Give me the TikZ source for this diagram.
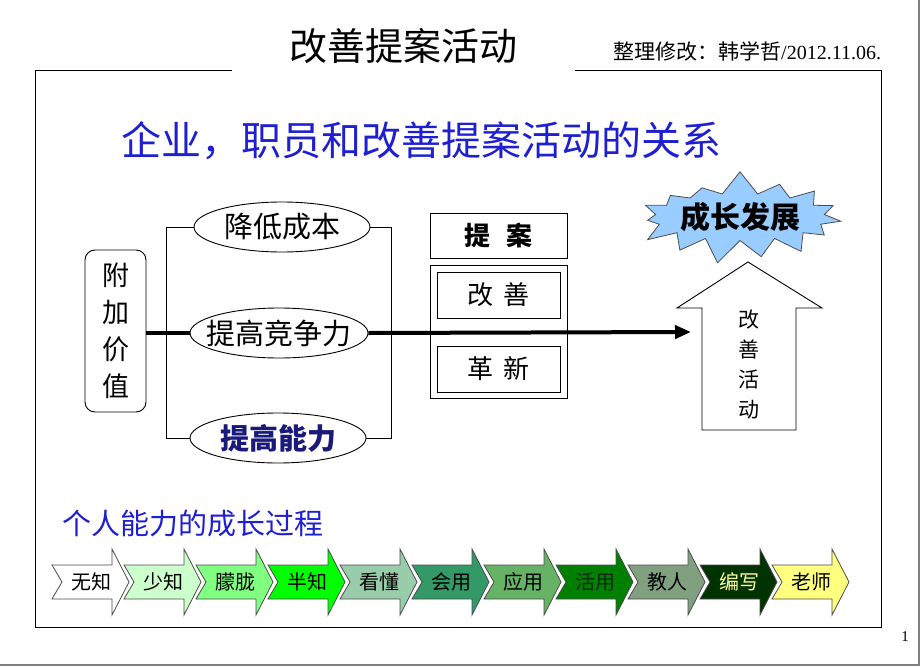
\documentclass[tikz,border=0pt]{standalone}
\usepackage{fontspec}
\setmainfont{Noto Sans CJK SC}
\newfontfamily\lat{Liberation Serif}
\usetikzlibrary{shapes.geometric,shapes.symbols,arrows.meta}
\definecolor{headblue}{RGB}{30,30,210}
\definecolor{navy}{RGB}{26,26,122}
\definecolor{burst}{RGB}{153,204,255}
\definecolor{cA}{RGB}{204,255,204}
\definecolor{cB}{RGB}{128,255,128}
\definecolor{cC}{RGB}{0,255,0}
\definecolor{cD}{RGB}{153,204,170}
\definecolor{cE}{RGB}{51,153,102}
\definecolor{cF}{RGB}{102,179,102}
\definecolor{cG}{RGB}{0,128,0}
\definecolor{tG}{RGB}{20,40,20}
\definecolor{cH}{RGB}{128,160,128}
\definecolor{cI}{RGB}{0,51,0}
\definecolor{tI}{RGB}{255,255,153}
\definecolor{cJ}{RGB}{255,255,128}
\definecolor{edge}{RGB}{128,128,128}
\tikzset{
  thin line/.style={draw=black,line width=0.9pt},
  oval/.style={ellipse,draw=black,line width=0.9pt,fill=white,inner ysep=0pt,inner xsep=-28pt,minimum width=176pt,minimum height=50pt,font=\fontsize{29}{31}\selectfont},
  plainbox/.style={rectangle,draw=black,line width=0.9pt,fill=white,inner sep=0pt},
  chev/.style={draw=black!70,line width=0.8pt},
  chevtext/.style={font=\fontsize{20}{22}\selectfont,inner sep=0pt},
  thick arrow/.style={line width=4pt,-{Triangle[length=16pt,width=13pt]}}
}
\begin{document}
\begin{tikzpicture}[x=1pt,y=-1pt]
\useasboundingbox (0,0) rectangle (920,666);
% page edges
\fill[edge] (918,0) rectangle (920,666);
\fill[edge] (0,664) rectangle (920,666);
% title
\node[font=\fontsize{38}{40}\selectfont,inner sep=0pt] (title) at (403,46) {改善提案活动};
\node[font=\fontsize{21}{24}\selectfont,inner sep=0pt,anchor=west] (author) at (613,51) {整理修改：韩学哲{\lat\fontsize{20}{22}\selectfont/2012.11.06.}};
% frame
\draw[thin line] (232,70) -- (35,70) -- (35,627) -- (881,627) -- (881,70) -- (575,70);
% heading
\node[font=\fontsize{40}{42}\selectfont,text=headblue,inner sep=0pt] (head) at (421,141) {企业，职员和改善提案活动的关系};
% added value box
\node[plainbox,rounded corners=10pt,minimum width=61pt,minimum height=162pt,align=center,font=\fontsize{27}{37}\selectfont] (fjjz) at (115.5,331) {附\\加\\价\\值};
% bracket coordinates
\coordinate (bl1) at (166,227);
\coordinate (bl3) at (166,438);
\coordinate (br1) at (391,227);
\coordinate (br3) at (391,438);
% proposal boxes
\node[plainbox,minimum width=137pt,minimum height=45pt,font=\bfseries\fontsize{26}{28}\selectfont] (ta) at (498.5,235.5) {提\hspace{0.6em}案};
\node[plainbox,minimum width=137pt,minimum height=133pt] (outer) at (498.5,331.5) {};
\node[plainbox,minimum width=123pt,minimum height=46pt,font=\fontsize{26}{28}\selectfont] (gs) at (498.5,295) {改\hspace{0.4em}善};
\node[plainbox,minimum width=123pt,minimum height=46pt,font=\fontsize{26}{28}\selectfont] (gx) at (498.5,369) {革\hspace{0.4em}新};
% up arrow
\draw[thin line,fill=white] (702,430) -- (702,308) -- (677,308) -- (748,262) -- (822,308) -- (796,308) -- (796,430) -- cycle;
\node[align=center,font=\fontsize{21}{30}\selectfont,inner sep=0pt] (gshd) at (749,365) {改\\善\\活\\动};
\coordinate (target) at (691,332);
% ovals
\node[oval] (c1) at (282,227) {降低成本};
\node[oval,minimum width=178pt] (c2) at (279,333) {提高竞争力};
\node[oval,font=\bfseries\fontsize{29}{31}\selectfont,text=navy] (c3) at (278,438) {提高能力};
% brackets
\draw[thin line] (c1.west) -- (bl1) -- (bl3) -- (c3.west);
\draw[thin line] (c1.east) -- (br1) -- (br3) -- (c3.east);
% main thick line
\draw[line width=4pt] (fjjz.east |- c2.west) -- (c2.west);
\draw[thick arrow] (c2.east) -- (target);
% starburst
\node[starburst,starburst points=15,starburst point height=24pt,random starburst=7,fill=burst,draw=black!70,line width=0.8pt,minimum width=204pt,minimum height=95pt,font=\bfseries\fontsize{30}{32}\selectfont,inner sep=0pt] (cz) at (740,217) {成长发展};
% growth heading
\node[font=\fontsize{29}{31}\selectfont,text=headblue,inner sep=0pt,anchor=west] (grow) at (62,524) {个人能力的成长过程};
% chevrons
\foreach \lab/\fc/\tc [count=\i from 0] in {无知/white/black,少知/cA/black,朦胧/cB/black,半知/cC/black,看懂/cD/black,会用/cE/black,应用/cF/black,活用/cG/tG,教人/cH/black,编写/cI/tI,老师/cJ/black}{
  \pgfmathsetmacro\L{52+72*\i}
  \filldraw[chev,fill=\fc] (\L,565) -- (\L+60,565) -- (\L+60,549) -- (\L+77,582) -- (\L+60,615) -- (\L+60,599) -- (\L,599) -- (\L+10,582) -- cycle;
  \node[chevtext,text=\tc] (ch\i) at (\L+39,582) {\lab};
}
% page number
\node[font=\lat\fontsize{15}{17}\selectfont,inner sep=0pt] (pg) at (905,637) {1};
\end{tikzpicture}
\end{document}
